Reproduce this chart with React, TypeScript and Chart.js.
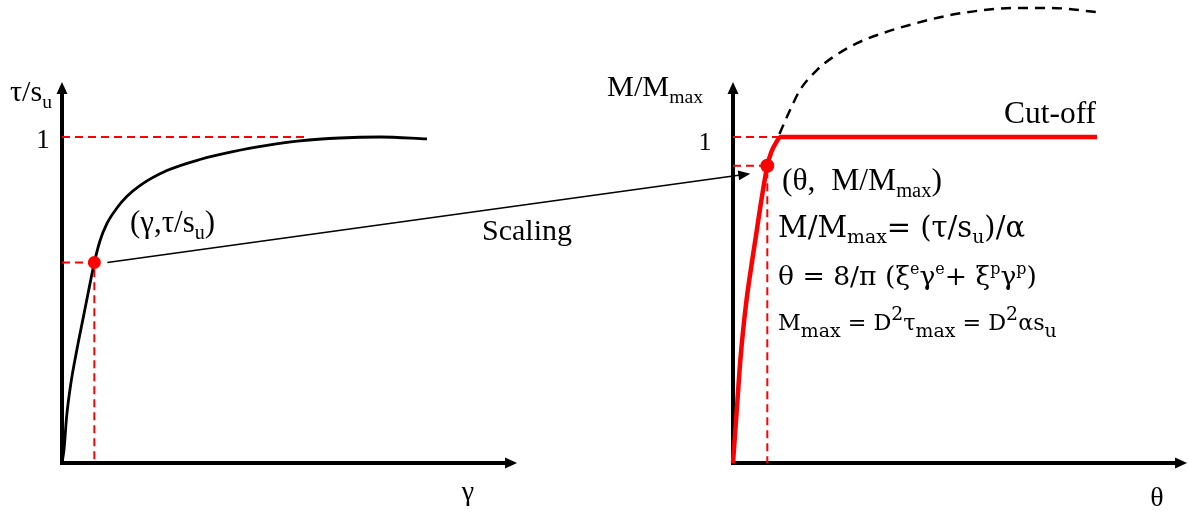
import { useEffect, useRef } from "react";
import { Chart, registerables } from "chart.js";

Chart.register(...registerables);

// Backbone curve: normalised shear stress τ/s_u against shear strain γ
const gammaValues = [0, 0.006, 0.014, 0.027, 0.045, 0.065, 0.085, 0.098, 0.115, 0.136, 0.167, 0.197, 0.236, 0.318, 0.418, 0.518, 0.621, 0.721, 0.842, 0.964, 1.106];
const tauValues = [0, 0.04, 0.142, 0.245, 0.347, 0.449, 0.551, 0.615, 0.681, 0.734, 0.783, 0.818, 0.851, 0.897, 0.931, 0.955, 0.974, 0.988, 0.997, 1.0, 0.994];
const gammaMarked = 0.098;
const tauMarked = 0.615;
const tauYield = 1;
const gammaYieldGuideEnd = 0.739;

// Scaled moment–rotation curve with cut-off at M/M_max = 1
const thetaValues = [0, 0.007, 0.014, 0.021, 0.03, 0.041, 0.055, 0.07, 0.085, 0.104, 0.115, 0.13, 0.145, 1.103];
const momentValues = [0, 0.1, 0.2, 0.3, 0.4, 0.5, 0.6, 0.7, 0.8, 0.912, 0.951, 0.982, 1.0, 1.0];
// Continuation of the scaled curve without the cut-off
const thetaUncut = [0.104, 0.115, 0.13, 0.142, 0.173, 0.203, 0.255, 0.303, 0.376, 0.455, 0.558, 0.658, 0.758, 0.861, 0.961, 1.103];
const momentUncut = [0.912, 0.951, 0.982, 1.012, 1.083, 1.144, 1.206, 1.245, 1.288, 1.319, 1.35, 1.374, 1.389, 1.396, 1.396, 1.383];
const thetaMarked = 0.104;
const momentMarked = 0.912;
const momentCutOff = 1;
const thetaCutOffGuideEnd = 0.142;

// Axis extents (in data units of each panel)
const gammaAxisEnd = 1.379;
const thetaAxisEnd = 1.376;
const verticalAxisEnd = 1.169;

// Text content
type Kind = "n" | "sub" | "sup";
type Part = [string, Kind];
const leftYTitle: Part[] = [["τ/s", "n"], ["u", "sub"]];
const leftPointLabel: Part[] = [["(γ,τ/s", "n"], ["u", "sub"], [")", "n"]];
const scalingLabel: Part[] = [["Scaling", "n"]];
const leftXTitle: Part[] = [["γ", "n"]];
const rightYTitle: Part[] = [["M/M", "n"], ["max", "sub"]];
const cutOffLabel: Part[] = [["Cut-off", "n"]];
const rightPointLabel: Part[] = [["(θ,  M/M", "n"], ["max", "sub"], [")", "n"]];
const scalingFormula: Part[] = [["M/M", "n"], ["max", "sub"], ["= (τ/s", "n"], ["u", "sub"], [")/α", "n"]];
const rotationFormula: Part[] = [["θ = 8/π (ξ", "n"], ["e", "sup"], ["γ", "n"], ["e", "sup"], ["+ ξ", "n"], ["p", "sup"], ["γ", "n"], ["p", "sup"], [")", "n"]];
const capacityFormula: Part[] = [["M", "n"], ["max", "sub"], [" = D", "n"], ["2", "sup"], ["τ", "n"], ["max", "sub"], [" = D", "n"], ["2", "sup"], ["αs", "n"], ["u", "sub"]];
const tickOne: Part[] = [["1", "n"]];
const rightXTitle: Part[] = [["θ", "n"]];

const W = 1188;
const H = 513;
const PX_X = 330;
const PX_Y = 326;
const LEFT_ORIGIN = 62;
const RIGHT_ORIGIN = 733;
const BASELINE = 463;

const RED = "#ff0000";
const SERIF = '"Liberation Serif", "Times New Roman", serif';
const MATH = '"DejaVu Serif", serif';

type TextSpec = {
  parts: Part[];
  x: number;
  y: number;
  size: number;
  width?: number;
  align?: "left" | "center" | "right";
  family?: string;
  subRatio?: number;
  subShift?: number;
  supShift?: number;
};

function measureRich(ctx: CanvasRenderingContext2D, parts: Part[], size: number, family: string, subRatio: number) {
  let w = 0;
  for (const [t, k] of parts) {
    const s = k === "n" ? size : size * subRatio;
    ctx.font = `${s}px ${family}`;
    w += ctx.measureText(t).width;
  }
  return w;
}

function drawRich(ctx: CanvasRenderingContext2D, spec: TextSpec) {
  const family = spec.family ?? SERIF;
  const subRatio = spec.subRatio ?? 0.65;
  let size = spec.size;
  if (spec.width) {
    size = (size * spec.width) / measureRich(ctx, spec.parts, size, family, subRatio);
  }
  const total = measureRich(ctx, spec.parts, size, family, subRatio);
  let x = spec.x;
  if (spec.align === "center") x -= total / 2;
  if (spec.align === "right") x -= total;
  ctx.fillStyle = "#000";
  ctx.textBaseline = "alphabetic";
  ctx.textAlign = "left";
  for (const [t, k] of spec.parts) {
    const s = k === "n" ? size : size * subRatio;
    const dy = k === "sub" ? size * (spec.subShift ?? 0.22) : k === "sup" ? -size * (spec.supShift ?? 0.4) : 0;
    ctx.font = `${s}px ${family}`;
    ctx.fillText(t, x, spec.y + dy);
    x += ctx.measureText(t).width;
  }
}

function arrowHead(ctx: CanvasRenderingContext2D, x: number, y: number, angle: number, len: number, half: number) {
  ctx.save();
  ctx.translate(x, y);
  ctx.rotate(angle);
  ctx.beginPath();
  ctx.moveTo(0, 0);
  ctx.lineTo(-len, -half);
  ctx.lineTo(-len, half);
  ctx.closePath();
  ctx.fill();
  ctx.restore();
}

function drawAxes(ctx: CanvasRenderingContext2D, xs: any, ys: any, xEnd: number) {
  const ox = xs.getPixelForValue(0);
  const oy = ys.getPixelForValue(0);
  const xe = xs.getPixelForValue(xEnd);
  const ye = ys.getPixelForValue(verticalAxisEnd);
  ctx.strokeStyle = "#000";
  ctx.fillStyle = "#000";
  ctx.lineWidth = 4;
  ctx.lineCap = "butt";
  ctx.beginPath();
  ctx.moveTo(ox, oy + 2);
  ctx.lineTo(ox, ye + 10);
  ctx.moveTo(ox - 2, oy);
  ctx.lineTo(xe - 10, oy);
  ctx.stroke();
  arrowHead(ctx, ox, ye, -Math.PI / 2, 12, 5.5);
  arrowHead(ctx, xe, oy, 0, 12, 5.5);
}

const overlay = {
  id: "overlay",
  beforeDatasetsDraw(chart: any) {
    const ctx: CanvasRenderingContext2D = chart.ctx;
    const { x, x2, y } = chart.scales;
    ctx.save();
    drawAxes(ctx, x, y, gammaAxisEnd);
    drawAxes(ctx, x2, y, thetaAxisEnd);
    ctx.restore();
  },
  afterDatasetsDraw(chart: any) {
    const ctx: CanvasRenderingContext2D = chart.ctx;
    const { x, x2, y } = chart.scales;
    ctx.save();
    // Scaling arrow from the backbone point to the moment–rotation point
    const sx = x.getPixelForValue(gammaMarked) + 13;
    const sy = y.getPixelForValue(tauMarked);
    const ex = x2.getPixelForValue(thetaMarked) - 17;
    const ey = y.getPixelForValue(momentMarked) + 8;
    const ang = Math.atan2(ey - sy, ex - sx);
    ctx.strokeStyle = "#000";
    ctx.fillStyle = "#000";
    ctx.lineWidth = 1.6;
    ctx.beginPath();
    ctx.moveTo(sx, sy);
    ctx.lineTo(ex - 10 * Math.cos(ang), ey - 10 * Math.sin(ang));
    ctx.stroke();
    arrowHead(ctx, ex, ey, ang, 12, 5);

    const texts: TextSpec[] = [
      { parts: leftYTitle, x: 10, y: 101, size: 28, width: 42 },
      { parts: tickOne, x: 43, y: 148, size: 27, align: "center" },
      { parts: leftPointLabel, x: 130, y: 232, size: 28, width: 85 },
      { parts: scalingLabel, x: 482, y: 240, size: 30, width: 90 },
      { parts: leftXTitle, x: 468, y: 500, size: 28, align: "center" },
      { parts: rightYTitle, x: 607, y: 96, size: 28, width: 96 },
      { parts: tickOne, x: 705, y: 150, size: 26, align: "center" },
      { parts: cutOffLabel, x: 1096, y: 123, size: 30, width: 92, align: "right" },
      { parts: rightPointLabel, x: 782, y: 190, size: 28, width: 160 },
      { parts: scalingFormula, x: 778, y: 237, size: 26, width: 247, family: MATH },
      { parts: rotationFormula, x: 778, y: 285, size: 26, width: 259, family: MATH, subRatio: 0.6 },
      { parts: capacityFormula, x: 778, y: 330, size: 20, width: 279, family: MATH, subRatio: 0.85, subShift: 0.32, supShift: 0.45 },
      { parts: rightXTitle, x: 1157, y: 506, size: 28, align: "center" },
    ];
    for (const t of texts) drawRich(ctx, t);
    ctx.restore();
  },
};

const pts = (xs: number[], ys: number[]) => xs.map((v, i) => ({ x: v, y: ys[i] }));

const guide = (data: { x: number; y: number }[], xAxisID: string) => ({
  data,
  xAxisID,
  yAxisID: "y",
  showLine: true,
  borderColor: RED,
  borderWidth: 2,
  borderDash: [8, 5],
  pointRadius: 0,
  order: 4,
});

export default function App() {
  const ref = useRef<HTMLCanvasElement>(null);

  useEffect(() => {
    if (!ref.current) return;
    const chart = new Chart(ref.current, {
      type: "scatter",
      data: {
        datasets: [
          {
            data: [{ x: gammaMarked, y: tauMarked }],
            xAxisID: "x",
            yAxisID: "y",
            pointRadius: 6.5,
            pointBackgroundColor: RED,
            pointBorderWidth: 0,
            order: 0,
          },
          {
            data: [{ x: thetaMarked, y: momentMarked }],
            xAxisID: "x2",
            yAxisID: "y",
            pointRadius: 7,
            pointBackgroundColor: RED,
            pointBorderWidth: 0,
            order: 0,
          },
          {
            data: pts(gammaValues, tauValues),
            xAxisID: "x",
            yAxisID: "y",
            showLine: true,
            borderColor: "#000",
            borderWidth: 2.8,
            pointRadius: 0,
            cubicInterpolationMode: "monotone",
            order: 2,
          },
          {
            data: pts(thetaValues, momentValues),
            xAxisID: "x2",
            yAxisID: "y",
            showLine: true,
            borderColor: RED,
            borderWidth: 4.5,
            pointRadius: 0,
            cubicInterpolationMode: "monotone",
            order: 1,
          },
          {
            data: pts(thetaUncut, momentUncut),
            xAxisID: "x2",
            yAxisID: "y",
            showLine: true,
            borderColor: "#000",
            borderWidth: 2.5,
            borderDash: [10, 7],
            pointRadius: 0,
            cubicInterpolationMode: "monotone",
            order: 3,
          },
          // Red guide lines, left panel
          guide([{ x: 0, y: tauYield }, { x: gammaYieldGuideEnd, y: tauYield }], "x"),
          guide([{ x: 0, y: tauMarked }, { x: gammaMarked, y: tauMarked }, { x: gammaMarked, y: 0 }], "x"),
          // Red guide lines, right panel
          guide([{ x: 0, y: momentCutOff }, { x: thetaCutOffGuideEnd, y: momentCutOff }], "x2"),
          guide([{ x: 0, y: momentMarked }, { x: thetaMarked, y: momentMarked }, { x: thetaMarked, y: 0 }], "x2"),
        ] as any,
      },
      options: {
        animation: false,
        responsive: false,
        events: [],
        layout: { padding: 0, autoPadding: false },
        plugins: { legend: { display: false }, tooltip: { enabled: false } },
        scales: {
          x: { type: "linear", axis: "x", display: false, min: -LEFT_ORIGIN / PX_X, max: (W - LEFT_ORIGIN) / PX_X },
          x2: { type: "linear", axis: "x", display: false, min: -RIGHT_ORIGIN / PX_X, max: (W - RIGHT_ORIGIN) / PX_X },
          y: { type: "linear", axis: "y", display: false, min: -(H - BASELINE) / PX_Y, max: BASELINE / PX_Y },
        } as any,
      } as any,
      plugins: [overlay],
    });
    return () => chart.destroy();
  }, []);

  return (
    <div style={{ position: "absolute", left: 0, top: 0, width: W, height: H, background: "#fff" }}>
      <canvas ref={ref} width={W} height={H} style={{ display: "block" }} />
    </div>
  );
}
